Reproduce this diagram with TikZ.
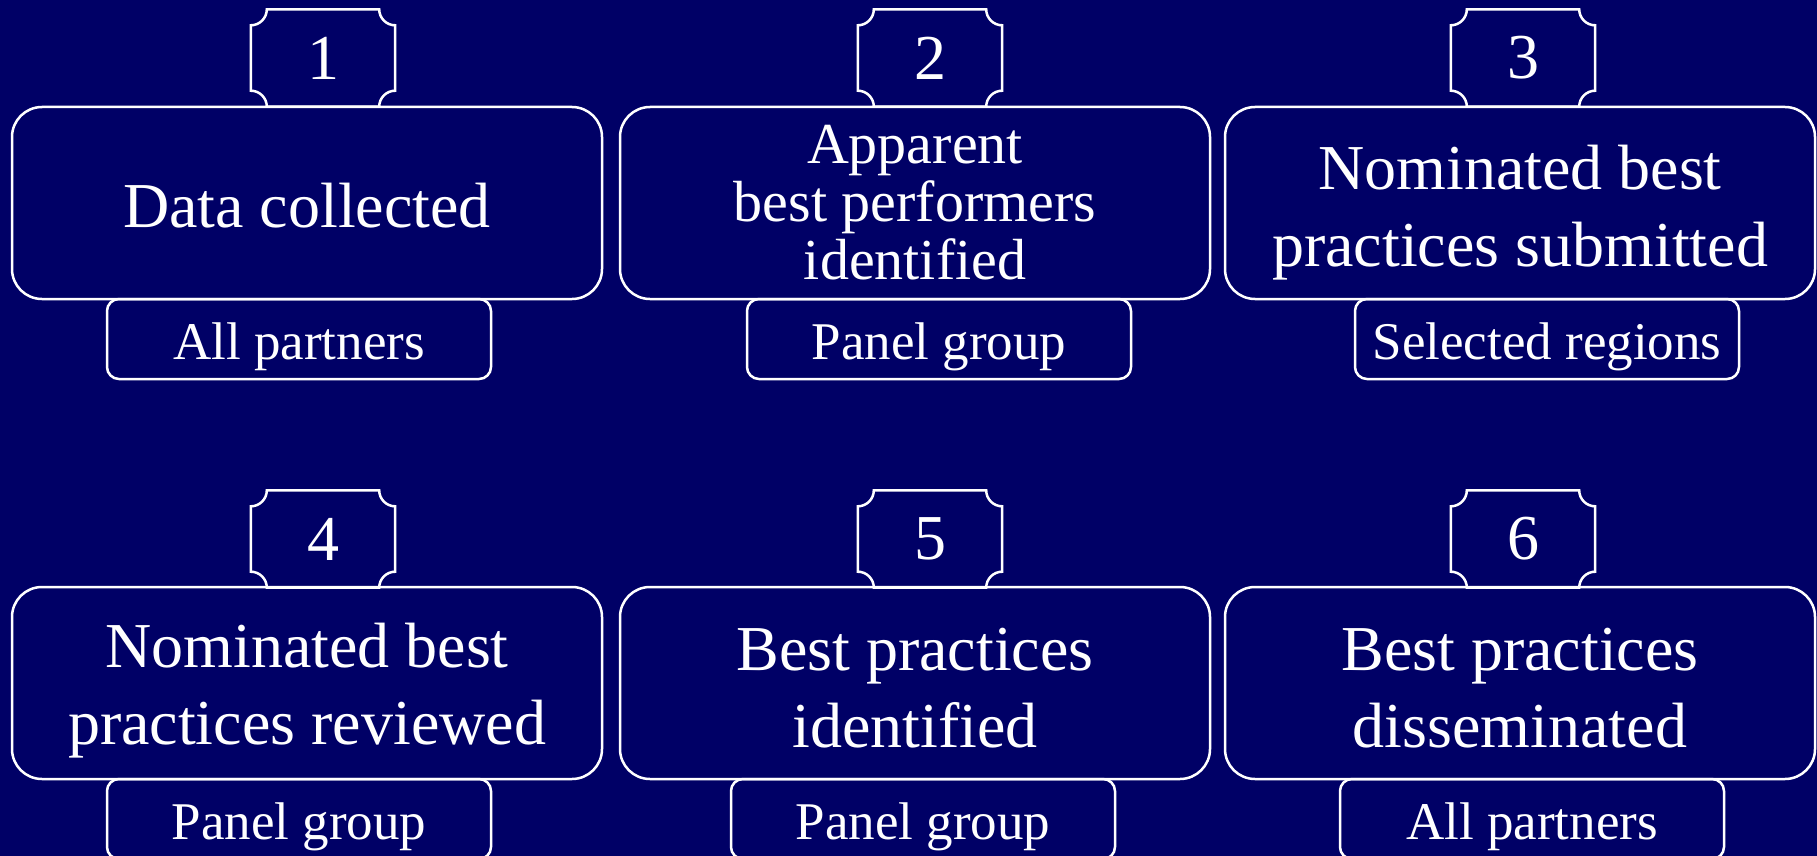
\documentclass[tikz,border=0pt]{standalone}
\usepackage{fontspec}
\setmainfont{Liberation Serif}
\definecolor{navy}{RGB}{0,0,102}
\tikzset{
  mainbox/.style={draw=white, line width=2.5pt, rounded corners=30pt, minimum width=590pt, minimum height=192pt, inner sep=0pt, text=white, align=center, font=\fontsize{64}{77}\selectfont},
  subbox/.style={draw=white, line width=2.5pt, rounded corners=12pt, minimum width=384pt, minimum height=80pt, inner sep=0pt, text=white, font=\fontsize{53}{60}\selectfont},
  numbox/.style={minimum width=144pt, minimum height=97pt, inner sep=0pt, text=white, font=\fontsize{64}{70}\selectfont},
  notch/.style={draw=white, line width=2.5pt},
}
\newcommand{\notchedbox}[1]{%
  \draw[notch] ([xshift=16pt]#1.north west) -- ([xshift=-16pt]#1.north east)
    arc[start angle=180,end angle=270,radius=16pt] -- ([yshift=16pt]#1.south east)
    arc[start angle=90,end angle=180,radius=16pt] -- ([xshift=16pt]#1.south west)
    arc[start angle=0,end angle=90,radius=16pt] -- ([yshift=-16pt]#1.north west)
    arc[start angle=270,end angle=360,radius=16pt] -- cycle;}
% last baseline placed #1 below the node centre
\newcommand{\lines}[2]{\raisebox{-#1}[0pt][0pt]{\begin{tabular}[b]{@{}c@{}}#2\end{tabular}}}
\newcommand{\oneline}[2]{\raisebox{-#1}[0pt][0pt]{#2}}
\begin{document}
\begin{tikzpicture}[x=1pt,y=1pt]
\fill[navy] (0,0) rectangle (1817,-856);
\useasboundingbox (0,0) rectangle (1817,-856);
% row 1
\node[numbox] (n1) at (323,-58) {1};
\node[numbox] (n2) at (930,-58) {2};
\node[numbox] (n3) at (1523,-58) {3};
\notchedbox{n1}\notchedbox{n2}\notchedbox{n3}
\node[mainbox] (m1) at (307,-203) {\oneline{24pt}{Data collected}};
\node[mainbox, font=\fontsize{58}{56}\selectfont] (m2) at (915,-203) {\lines{76pt}{Apparent\\best performers\\identified}};
\node[mainbox] (m3) at (1520,-203) {\lines{63pt}{Nominated best\\practices submitted}};
\node[subbox] (s1) at (299,-339) {\oneline{20pt}{All partners}};
\node[subbox] (s2) at (939,-339) {\oneline{20pt}{Panel group}};
\node[subbox] (s3) at (1547,-339) {\oneline{20pt}{Selected regions}};
% row 2
\node[numbox] (n4) at (323,-539) {4};
\node[numbox] (n5) at (930,-539) {5};
\node[numbox] (n6) at (1523,-539) {6};
\notchedbox{n4}\notchedbox{n5}\notchedbox{n6}
\node[mainbox] (m4) at (307,-683) {\lines{61pt}{Nominated best\\practices reviewed}};
\node[mainbox] (m5) at (915,-683) {\lines{64pt}{Best practices\\identified}};
\node[mainbox] (m6) at (1520,-683) {\lines{64pt}{Best practices\\disseminated}};
\node[subbox] (s4) at (299,-819) {\oneline{20pt}{Panel group}};
\node[subbox] (s5) at (923,-819) {\oneline{20pt}{Panel group}};
\node[subbox] (s6) at (1532,-819) {\oneline{20pt}{All partners}};
\end{tikzpicture}
\end{document}
